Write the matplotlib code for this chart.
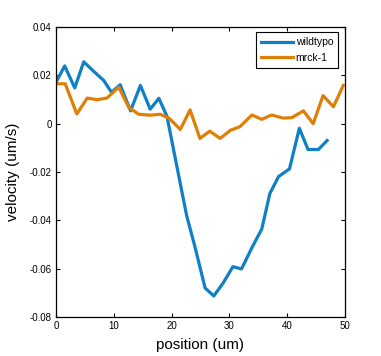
import matplotlib
matplotlib.use("Agg")
import matplotlib.pyplot as plt

plt.rcParams['font.family'] = ['Liberation Sans', 'DejaVu Sans']

wt_x = [0.17, 1.5, 3.24, 4.8, 6.5, 8.25, 9.6, 11.1, 12.9, 14.6, 16.3, 17.8, 19.2,
        20.9, 22.6, 24.0, 25.8, 27.3, 28.9, 30.6, 32.1, 33.9, 35.6, 37.0, 38.5,
        40.4, 42.1, 43.6, 45.4, 46.9]
wt_y = [0.0179, 0.0239, 0.0148, 0.0256, 0.0217, 0.0179, 0.0130, 0.0161, 0.0053,
        0.0158, 0.0060, 0.0105, 0.0030, -0.0175, -0.0380, -0.0506, -0.0680,
        -0.0713, -0.0660, -0.0592, -0.0601, -0.0513, -0.0436, -0.0289, -0.0219,
        -0.0187, -0.0019, -0.0107, -0.0107, -0.0070]

mk_x = [0.17, 1.6, 3.6, 5.4, 7.1, 8.8, 10.85, 12.6, 14.3, 16.3, 18.0, 19.6, 21.5,
        23.2, 24.9, 26.6, 28.4, 30.2, 31.8, 33.9, 35.6, 37.3, 39.3, 40.8, 42.8,
        44.5, 46.2, 48.0, 49.7]
mk_y = [0.0165, 0.0165, 0.0040, 0.0106, 0.0099, 0.0106, 0.0151, 0.0067, 0.0039,
        0.0035, 0.0039, 0.0022, -0.0024, 0.0057, -0.0061, -0.0031, -0.0061,
        -0.0027, -0.0013, 0.0036, 0.0018, 0.0036, 0.0023, 0.0025, 0.0053, 0.0,
        0.0116, 0.0070, 0.0158]

labels = ['wildtypo', 'mrck-1']
x_ticks = [0, 10, 20, 30, 40, 50]
y_ticks = [-0.08, -0.06, -0.04, -0.02, 0, 0.02, 0.04]
y_ticklabels = ['-0.08', '-0.06', '-0.04', '-0.02', '0', '0.02', '0.04']

fig = plt.figure(figsize=(3.81, 3.56), dpi=100)
ax = fig.add_axes([56/381, 1 - 317/356, (345-56)/381, (317-27)/356])

ax.plot(wt_x, wt_y, color='#0F80C6', lw=2.3, label=labels[0])
ax.plot(mk_x, mk_y, color='#DF7F05', lw=2.3, label=labels[1])

ax.set_xlim(0, 50)
ax.set_ylim(-0.08, 0.04)
ax.set_xticks(x_ticks)
ax.set_yticks(y_ticks)
ax.set_yticklabels(y_ticklabels)
ax.tick_params(direction='in', top=True, right=True, length=3, width=0.8,
               labelsize=7, pad=3)
for s in ax.spines.values():
    s.set_linewidth(0.9)

ax.set_xlabel('position (um)', fontsize=11, labelpad=5)
ax.set_ylabel('velocity (um/s)', fontsize=11, labelpad=7)

leg = ax.legend(loc='upper right', fontsize=7.5, handlelength=3.0,
                fancybox=False, framealpha=1, edgecolor='black',
                borderpad=0.5, labelspacing=0.5, handletextpad=0.3,
                bbox_to_anchor=(0.995, 1.0))
leg.get_frame().set_linewidth(0.8)

fig.savefig('out.png', dpi=100)
